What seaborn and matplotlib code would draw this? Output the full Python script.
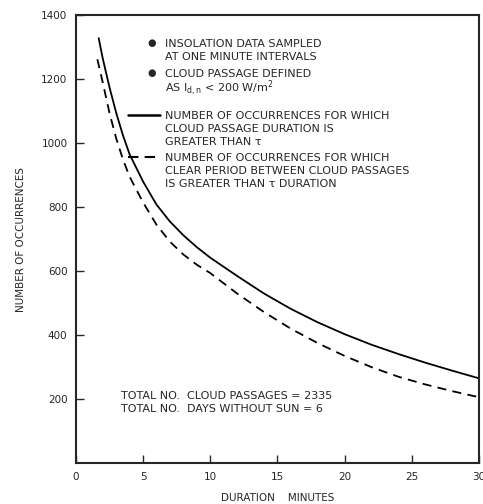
import pandas as pd
import matplotlib
matplotlib.use("Agg")
import matplotlib.pyplot as plt
import seaborn as sns

# values
dur_solid = [1.7, 2, 2.5, 3, 3.5, 4, 5, 6, 7, 8, 9, 10, 12, 14, 16, 18, 20, 22, 24, 26, 28, 30]
occ_solid = [1328, 1265, 1175, 1095, 1025, 965, 880, 808, 755, 712, 675, 642,
             585, 530, 482, 440, 403, 370, 341, 314, 289, 265]

dur_dash = [1.6, 2, 2.5, 3, 3.5, 4, 5, 6, 7, 8, 9, 10, 12, 14, 16, 18, 20, 22, 24, 26, 28, 30]
occ_dash = [1262, 1190, 1095, 1015, 950, 895, 815, 745, 692, 652, 620, 594,
            530, 472, 420, 375, 335, 300, 270, 246, 225, 206]

x_ticks = [0, 5, 10, 15, 20, 25, 30]
y_ticks = [200, 400, 600, 800, 1000, 1200, 1400]

df = pd.concat([
    pd.DataFrame({"dur": dur_solid, "occ": occ_solid, "kind": "cloud"}),
    pd.DataFrame({"dur": dur_dash, "occ": occ_dash, "kind": "clear"}),
])

sns.set_style("ticks")
plt.rcParams['font.family'] = ['DejaVu Sans']
plt.rcParams['mathtext.default'] = 'regular'

fig = plt.figure(figsize=(4.83, 5.04), dpi=100)
ax = fig.add_axes([0.157, 0.081, 0.835, 0.889])

sns.lineplot(data=df, x="dur", y="occ", style="kind", color="black",
             dashes={"cloud": "", "clear": (5, 3.5)}, linewidth=1.3,
             legend=False, ax=ax, sort=False)

ax.set_xlim(0, 30)
ax.set_ylim(0, 1400)
ax.set_xticks(x_ticks)
ax.set_yticks(y_ticks)
ax.tick_params(direction="in", length=6, width=1, labelsize=7.5, pad=6)
for s in ax.spines.values():
    s.set_linewidth(1.5)
    s.set_visible(True)

ax.set_xlabel("DURATION    MINUTES", fontsize=7.5, labelpad=8)
ax.set_ylabel("NUMBER OF OCCURRENCES", fontsize=7.5, labelpad=11)

# legend block drawn by hand (bullets + line keys), one text per line
fs = 8
tr = ax.transAxes
tx = 0.221
b = 0.009  # baseline offset below line centre

lines = [
    (0.9375, "INSOLATION DATA SAMPLED"),
    (0.9085, "AT ONE MINUTE INTERVALS"),
    (0.8705, "CLOUD PASSAGE DEFINED"),
    (0.8380, "AS I$_{d,n}$ < 200 W/m$^2$"),
    (0.7770, "NUMBER OF OCCURRENCES FOR WHICH"),
    (0.7480, "CLOUD PASSAGE DURATION IS"),
    (0.7190, "GREATER THAN \u03c4"),
    (0.6830, "NUMBER OF OCCURRENCES FOR WHICH"),
    (0.6540, "CLEAR PERIOD BETWEEN CLOUD PASSAGES"),
    (0.6250, "IS GREATER THAN \u03c4 DURATION"),
]
for yy, txt in lines:
    ax.text(tx, yy - b, txt, transform=tr, fontsize=fs, va="baseline", ha="left")

for yy in (0.9375, 0.8705):
    ax.text(0.189, yy, "\u25cf", transform=tr, fontsize=7, va="center", ha="center")

ax.plot([0.129, 0.208], [0.777, 0.777], transform=tr, color="black", lw=1.8)
ax.plot([0.129, 0.208], [0.683, 0.683], transform=tr, color="black", lw=1.5,
        dashes=(5, 3))

ax.text(0.112, 0.152 - b, "TOTAL NO.  CLOUD PASSAGES = 2335", transform=tr,
        fontsize=fs, va="baseline", ha="left")
ax.text(0.112, 0.123 - b, "TOTAL NO.  DAYS WITHOUT SUN = 6", transform=tr,
        fontsize=fs, va="baseline", ha="left")

fig.savefig("out.png", dpi=100)
